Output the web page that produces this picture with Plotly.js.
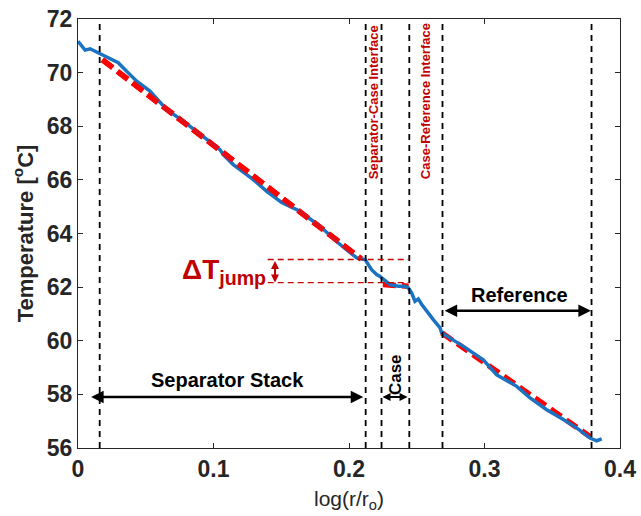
<!DOCTYPE html>
<html>
<head>
<meta charset="utf-8">
<script src="https://cdn.plot.ly/plotly-3.0.1.min.js"></script>
<style>html,body{margin:0;padding:0;background:#fff;}#chart{width:641px;height:516px;}</style>
</head>
<body>
<div id="chart"></div>
<script>
// Measured temperature profile
const logR = [0, 0.0052, 0.0089, 0.0125, 0.0162, 0.0236, 0.0297, 0.0371, 0.0433, 0.0531, 0.0655, 0.0777, 0.0925, 0.1048, 0.1072, 0.1146, 0.1294, 0.1393, 0.1503, 0.1638, 0.1786, 0.1934, 0.2057, 0.2118, 0.2167, 0.2204, 0.2229, 0.2253, 0.2303, 0.2364, 0.2413, 0.2438, 0.2463, 0.2487, 0.2511, 0.2537, 0.2573, 0.2622, 0.2672, 0.2684, 0.2844, 0.2991, 0.3090, 0.3238, 0.3336, 0.3459, 0.3582, 0.3680, 0.3779, 0.3828, 0.3865];
const temp = [71.17, 70.84, 70.89, 70.80, 70.74, 70.55, 70.37, 69.99, 69.68, 69.31, 68.62, 68.19, 67.63, 67.13, 66.94, 66.57, 66.01, 65.57, 65.16, 64.83, 64.27, 63.59, 63.09, 63.03, 62.65, 62.47, 62.40, 62.31, 62.09, 62.03, 62.03, 61.97, 61.78, 61.47, 61.56, 61.35, 61.10, 60.79, 60.48, 60.29, 59.79, 59.29, 58.73, 58.30, 57.87, 57.43, 57.06, 56.75, 56.37, 56.27, 56.34];

// Linear fits (red dashed)
const fitSepX = [0.018, 0.209];
const fitSepY = [70.48, 63.05];
const fitCaseX = [0.2250, 0.2440];
const fitCaseY = [62.10, 62.03];
const fitRefX = [0.2684, 0.3780];
const fitRefY = [60.30, 56.42];

// Region boundaries (vertical dashed lines)
const boundaries = [0.016, 0.2123, 0.224, 0.2445, 0.269, 0.379];

// Temperature jump levels
const jumpLevels = [63.03, 62.17];
const jumpStartX = 0.140;
const jumpEndX = 0.2440;

// Axis ticks
const xTicks = [0, 0.1, 0.2, 0.3, 0.4];
const xTickText = ['0', '0.1', '0.2', '0.3', '0.4'];
const yTicks = [56, 58, 60, 62, 64, 66, 68, 70, 72];
const yTickText = ['56', '58', '60', '62', '64', '66', '68', '70', '72'];

// Region spans
const sepSpan = [0.0086, 0.2105];
const caseSpan = [0.2236, 0.2432];
const refSpan = [0.2695, 0.3785];
const spanArrowY = 57.9;
const refArrowY = 61.12;

const RED_TXT = '#C00000';
const FONT = 'Arial, Liberation Sans, sans-serif';

const traces = [
  {x: fitSepX, y: fitSepY, mode: 'lines', line: {color: '#FF0000', width: 5.5, dash: '13px,6px'}, hoverinfo: 'skip'},
  {x: fitCaseX, y: fitCaseY, mode: 'lines', line: {color: '#FF0000', width: 5.5, dash: '13px,6px'}, hoverinfo: 'skip'},
  {x: fitRefX, y: fitRefY, mode: 'lines', line: {color: '#FF0000', width: 5.5, dash: '13px,6px'}, hoverinfo: 'skip'},
  {x: logR, y: temp, mode: 'lines', line: {color: '#1A72C0', width: 3.5}},
  {x: fitSepX, y: fitSepY, mode: 'lines', line: {color: '#FF0000', width: 5.5, dash: '13px,6px'}, hoverinfo: 'skip', opacity: 0.85}
];

const shapes = boundaries.map(b => ({
  type: 'line', xref: 'x', yref: 'paper', x0: b, x1: b, y0: 0, y1: 1,
  line: {color: '#000', width: 1.8, dash: '6px,5px'}
}));
jumpLevels.forEach(lv => shapes.push({
  type: 'line', xref: 'x', yref: 'y', x0: jumpStartX, x1: jumpEndX, y0: lv, y1: lv,
  line: {color: RED_TXT, width: 1.3, dash: '6px,4px'}
}));

function dblArrow(x0, x1, y, color, w, size) {
  return [
    {x: x1, y: y, ax: x0, ay: y, xref: 'x', yref: 'y', axref: 'x', ayref: 'y', text: '', showarrow: true,
     arrowhead: 2, arrowside: 'end+start', arrowsize: size, arrowwidth: w, arrowcolor: color}
  ];
}

const annotations = [].concat(
  dblArrow(sepSpan[0], sepSpan[1], spanArrowY, '#000', 2.5, 1),
  dblArrow(caseSpan[0], caseSpan[1], spanArrowY, '#000', 2, 0.8),
  dblArrow(refSpan[0], refSpan[1], refArrowY, '#000', 2.5, 1),
  [
    {x: 0.1454, y: jumpLevels[1], ax: 0.1454, ay: jumpLevels[0], xref: 'x', yref: 'y', axref: 'x', ayref: 'y', text: '', showarrow: true,
     arrowhead: 2, arrowside: 'end+start', arrowsize: 0.8, arrowwidth: 2, arrowcolor: RED_TXT},
    {x: 0.1105, y: 58.52, xref: 'x', yref: 'y', text: 'Separator Stack', showarrow: false,
     font: {family: FONT, size: 20, color: '#000', weight: 'bold'}},
    {x: 0.326, y: 61.7, xref: 'x', yref: 'y', text: 'Reference', showarrow: false,
     font: {family: FONT, size: 20, color: '#000', weight: 'bold'}},
    {x: 0.2338, y: 58.75, xref: 'x', yref: 'y', text: 'Case', showarrow: false, textangle: -90,
     font: {family: FONT, size: 17, color: '#000', weight: 'bold'}},
    {x: 0.1405, y: 62.58, xref: 'x', yref: 'y', xanchor: 'right', text: 'ΔT<sub>jump</sub>', showarrow: false,
     font: {family: FONT, size: 28, color: RED_TXT, weight: 'bold'}},
    {x: 0.2178, y: 68.9, xref: 'x', yref: 'y', text: 'Separator-Case Interface', showarrow: false, textangle: -90,
     font: {family: 'Liberation Sans Narrow, Arial Narrow, Arial, sans-serif', size: 13, color: RED_TXT, weight: 'bold'}},
    {x: 0.2565, y: 68.92, xref: 'x', yref: 'y', text: 'Case-Reference Interface', showarrow: false, textangle: -90,
     font: {family: 'Liberation Sans Narrow, Arial Narrow, Arial, sans-serif', size: 13, color: RED_TXT, weight: 'bold'}}
  ]
);

const axisCommon = {
  showgrid: false, zeroline: false, showline: true, mirror: 'ticks',
  linecolor: '#262626', linewidth: 1, ticks: 'inside', ticklen: 5, tickcolor: '#262626',
  tickfont: {family: FONT, size: 23, color: '#262626', weight: 'bold'}
};

const layout = {
  width: 641, height: 516,
  margin: {l: 78, r: 21, t: 19, b: 68},
  paper_bgcolor: '#fff', plot_bgcolor: '#fff',
  showlegend: false,
  xaxis: Object.assign({}, axisCommon, {
    range: [0, 0.4], tickvals: xTicks, ticktext: xTickText,
    title: {text: 'log(r/r<sub>o</sub>)', standoff: 10,
      font: {family: FONT, size: 21, color: '#262626'}}
  }),
  yaxis: Object.assign({}, axisCommon, {
    range: [56, 72], tickvals: yTicks, ticktext: yTickText,
    title: {text: 'Temperature [<sup>o</sup>C]', standoff: 7,
      font: {family: FONT, size: 22, color: '#262626', weight: 'bold'}}
  }),
  shapes: shapes,
  annotations: annotations
};

Plotly.newPlot('chart', traces, layout, {displayModeBar: false, staticPlot: true});
</script>
</body>
</html>
